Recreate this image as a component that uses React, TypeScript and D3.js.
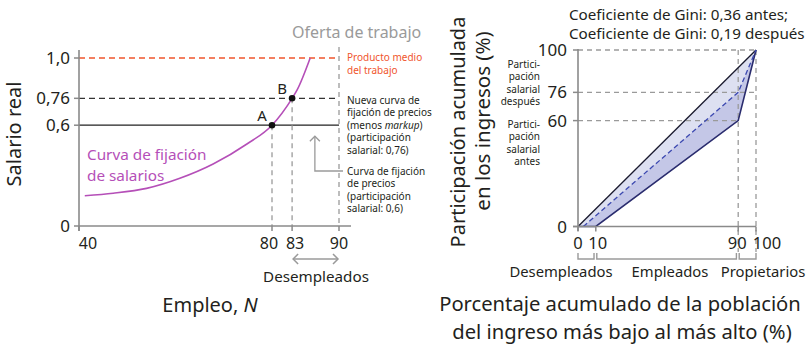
import React from "react";
import * as d3 from "d3";

// ---------- Data ----------
const leftYTicks = [0, 0.6, 0.76, 1.0];
const leftYLabels = ["0", "0,6", "0,76", "1,0"];
const leftXTicks = [40, 80, 83, 90];
const leftXLabels = ["40", "80", "83", "90"];
// wage-setting curve (N, real wage)
const wageCurveN = [41.2, 47.1, 54.0, 60.9, 67.8, 74.8, 80, 83, 83.75, 85.7];
const wageCurveW = [0.18, 0.195, 0.224, 0.284, 0.369, 0.488, 0.6, 0.76, 0.81, 1.0];
const productMedio = 1.0;
const priceNew = 0.76;
const priceOld = 0.6;
const laborSupplyN = 90;
const eqPoints = [
  { label: "A", N: 80, w: 0.6 },
  { label: "B", N: 83, w: 0.76 },
];

const rightYTicks = [0, 60, 76, 100];
const rightXTicks = [0, 10, 90, 100];
const equalityLine: [number, number][] = [[0, 0], [100, 100]];
const lorenzBefore: [number, number][] = [[0, 0], [10, 0], [90, 60], [100, 100]];
const lorenzAfter: [number, number][] = [[3, 0], [90, 76], [100, 100]];
const groups = [
  { label: "Desempleados", from: 0, to: 9 },
  { label: "Empleados", from: 10, to: 89 },
  { label: "Propietarios", from: 90, to: 100 },
];

// ---------- Styles ----------
const FONT = "'Noto Sans', 'Open Sans', sans-serif";
const TXT = "#231f20";
const AXIS = "#8a8a8a";
const DASH = "#9a9a9a";
const PURPLE = "#b54fb8";
const RED = "#f0552d";
const NAVY = "#2a2c6e";
const BLUE = "#3b48b0";

export default function App() {
  // left chart scales
  const xL = d3.scaleLinear().domain([40, 80, 90]).range([79, 272, 339]);
  const yL = d3.scaleLinear().domain([0, 1]).range([226, 58]);
  // right chart scales
  const xR = d3.scaleLinear().domain([0, 100]).range([578, 756]);
  const yR = d3.scaleLinear().domain([0, 100]).range([226.5, 50]);

  const curvePath =
    d3
      .line<number>()
      .x((_, i) => xL(wageCurveN[i]))
      .y((_, i) => yL(wageCurveW[i]))
      .curve(d3.curveMonotoneX)(wageCurveN) || "";

  const lineR = d3
    .line<[number, number]>()
    .x((d) => xR(d[0]))
    .y((d) => yR(d[1]));

  const lightPoly = [[0, 0] as [number, number], ...equalityLine.slice(1), ...[...lorenzAfter].reverse()];
  const darkPoly = [...lorenzAfter, ...[...lorenzBefore].reverse().slice(1, 3)];

  const xLend = xL(laborSupplyN);
  const noteX = xLend + 8;
  const noteLines1 = ["Nueva curva de", "fijación de precios"];
  const noteLines2 = ["(participación", "salarial: 0,76)"];
  const noteLines3 = ["Curva de fijación", "de precios", "(participación", "salarial: 0,6)"];

  const arrowX = xL(86.4);
  const arrowY = 171;

  // label offsets for crowded tick labels
  const leftXLabelShift: Record<number, number> = { 40: 9, 80: -3, 83: 3, 90: 0 };
  const rightXLabelShift: Record<number, number> = { 0: 0, 10: 2, 90: -1, 100: 11 };

  const chevron = (x: number, y: number, dir: "up" | "left" | "right", s = 5) => {
    if (dir === "up") return `M${x - s},${y + s} L${x},${y} L${x + s},${y + s}`;
    if (dir === "left") return `M${x + s},${y - s} L${x},${y} L${x + s},${y + s}`;
    return `M${x - s},${y - s} L${x},${y} L${x - s},${y + s}`;
  };

  return (
    <svg
      width={809}
      height={348}
      style={{ position: "absolute", left: 0, top: 0, background: "#fff" }}
      fontFamily={FONT}
    >
      {/* ================= LEFT CHART ================= */}
      <text x={292} y={38} fontSize={16} fill="#9a9a9a">Oferta de trabajo</text>

      {/* horizontal reference lines */}
      <line x1={xL(40)} x2={xLend} y1={yL(productMedio)} y2={yL(productMedio)} stroke={RED} strokeWidth={1.5} strokeDasharray="6,4" />
      <line x1={xL(40)} x2={xLend} y1={yL(priceNew)} y2={yL(priceNew)} stroke="#333" strokeWidth={1.3} strokeDasharray="6,4" />
      <line x1={xL(40)} x2={xLend} y1={yL(priceOld)} y2={yL(priceOld)} stroke="#222" strokeWidth={1.3} />

      {/* vertical dashed lines */}
      {eqPoints.map((p) => (
        <line key={p.label} x1={xL(p.N)} x2={xL(p.N)} y1={yL(p.w)} y2={yL(0)} stroke={DASH} strokeWidth={1.3} strokeDasharray="5,4" />
      ))}
      <line x1={xLend} x2={xLend} y1={47} y2={yL(0)} stroke={DASH} strokeWidth={1.3} strokeDasharray="5,4" />

      {/* axes */}
      <line x1={xL(40)} x2={xL(40)} y1={50} y2={231} stroke={AXIS} strokeWidth={1.6} />
      <line x1={xL(40)} x2={351} y1={yL(0)} y2={yL(0)} stroke={AXIS} strokeWidth={1.6} />
      {leftYTicks.map((t, i) => (
        <g key={t}>
          <line x1={xL(40) - 5} x2={xL(40)} y1={yL(t)} y2={yL(t)} stroke={AXIS} strokeWidth={1.5} />
          <text x={70} y={yL(t) + 6} fontSize={17} textAnchor="end" fill={TXT}>{leftYLabels[i]}</text>
        </g>
      ))}
      {leftXTicks.map((t, i) => (
        <g key={t}>
          <line x1={xL(t)} x2={xL(t)} y1={yL(0)} y2={yL(0) + 5} stroke={AXIS} strokeWidth={1.5} />
          <text x={xL(t) + leftXLabelShift[t]} y={249} fontSize={16} textAnchor="middle" fill={TXT}>{leftXLabels[i]}</text>
        </g>
      ))}

      {/* wage setting curve */}
      <path d={curvePath} fill="none" stroke={PURPLE} strokeWidth={1.6} />
      <text x={87} y={160} fontSize={15.3} fill={PURPLE}>Curva de fijación</text>
      <text x={87} y={181} fontSize={15.3} fill={PURPLE}>de salarios</text>

      {/* points */}
      {eqPoints.map((p) => (
        <g key={p.label}>
          <circle cx={xL(p.N)} cy={yL(p.w)} r={3.3} fill="#111" />
          <text x={xL(p.N) - 10} y={yL(p.w) - 4} fontSize={15} textAnchor="middle" fill={TXT}>{p.label}</text>
        </g>
      ))}

      {/* right annotations */}
      <text fontSize={10} fill={RED}>
        <tspan x={noteX} y={61}>Producto medio</tspan>
        <tspan x={noteX} y={74}>del trabajo</tspan>
      </text>
      <text fontSize={10} fill={TXT}>
        {noteLines1.map((l, i) => (
          <tspan key={i} x={noteX} y={104 + i * 12.4}>{l}</tspan>
        ))}
        <tspan x={noteX} y={104 + 2 * 12.4}>(menos </tspan>
        <tspan fontStyle="italic">markup</tspan>
        <tspan>)</tspan>
        {noteLines2.map((l, i) => (
          <tspan key={"b" + i} x={noteX} y={104 + (3 + i) * 12.4}>{l}</tspan>
        ))}
      </text>
      <text fontSize={10} fill={TXT}>
        {noteLines3.map((l, i) => (
          <tspan key={i} x={noteX} y={175 + i * 12.4}>{l}</tspan>
        ))}
      </text>
      {/* arrow */}
      <path d={`M${noteX - 4},${arrowY} L${arrowX},${arrowY} L${arrowX},${yL(priceOld) + 11}`} fill="none" stroke={DASH} strokeWidth={1.3} />
      <path d={chevron(arrowX, yL(priceOld) + 11, "up")} fill="none" stroke={DASH} strokeWidth={1.3} />

      {/* unemployed double arrow */}
      <line x1={xL(83) + 1} x2={xL(90) - 1} y1={259} y2={259} stroke={DASH} strokeWidth={1.5} />
      <path d={chevron(xL(83) + 1, 259, "left")} fill="none" stroke={DASH} strokeWidth={1.5} />
      <path d={chevron(xL(90) - 1, 259, "right")} fill="none" stroke={DASH} strokeWidth={1.5} />
      <text x={316} y={282} fontSize={15.2} textAnchor="middle" fill={TXT}>Desempleados</text>

      {/* axis titles */}
      <text x={210} y={312} fontSize={20} textAnchor="middle" fill={TXT}>
        Empleo, <tspan fontStyle="italic">N</tspan>
      </text>
      <text transform="translate(21,134) rotate(-90)" fontSize={20} textAnchor="middle" fill={TXT}>Salario real</text>

      {/* ================= RIGHT CHART ================= */}
      <text x={569} y={20} fontSize={15.2} fill={TXT}>Coeficiente de Gini: 0,36 antes;</text>
      <text x={569} y={39} fontSize={15.2} fill={TXT}>Coeficiente de Gini: 0,19 después</text>

      {/* fills */}
      <path d={lineR(lightPoly) + "Z"} fill="#dde0f1" />
      <path d={lineR(darkPoly) + "Z"} fill="#c4c7e7" />

      {/* dashed guides */}
      {[100, 76, 60].map((v) => (
        <line key={v} x1={xR(0)} x2={v === 60 ? xR(90) : xR(100)} y1={yR(v)} y2={yR(v)} stroke={DASH} strokeWidth={1.3} strokeDasharray="5,4" />
      ))}
      {[90, 100].map((v) => (
        <line key={v} x1={xR(v)} x2={xR(v)} y1={yR(100)} y2={252} stroke={DASH} strokeWidth={1.3} strokeDasharray="5,4" />
      ))}

      {/* lines */}
      <path d={lineR(equalityLine) || ""} fill="none" stroke="#1a1a2e" strokeWidth={1.3} />
      <path d={lineR(lorenzBefore) || ""} fill="none" stroke={NAVY} strokeWidth={1.6} />
      <path d={lineR(lorenzAfter) || ""} fill="none" stroke={BLUE} strokeWidth={1.3} strokeDasharray="5,3" />

      {/* axes */}
      <line x1={xR(0)} x2={xR(0)} y1={49} y2={231} stroke={AXIS} strokeWidth={1.6} />
      <line x1={xR(0) - 5} x2={xR(100)} y1={yR(0)} y2={yR(0)} stroke={AXIS} strokeWidth={1.6} />
      {rightYTicks.map((t) => (
        <g key={t}>
          <line x1={xR(0) - 5} x2={xR(0)} y1={yR(t)} y2={yR(t)} stroke={AXIS} strokeWidth={1.5} />
          <text x={567} y={yR(t) + 6} fontSize={17} textAnchor="end" fill={TXT}>{t}</text>
        </g>
      ))}
      {rightXTicks.map((t) => (
        <g key={t}>
          <line x1={xR(t)} x2={xR(t)} y1={yR(0)} y2={yR(0) + 5} stroke={AXIS} strokeWidth={1.5} />
          <text x={xR(t) + rightXLabelShift[t]} y={249} fontSize={16.5} textAnchor="middle" fill={TXT}>{t}</text>
        </g>
      ))}

      {/* side labels */}
      <text fontSize={10} fill={TXT} textAnchor="end">
        {["Partici-", "pación", "salarial", "después"].map((l, i) => (
          <tspan key={i} x={540} y={68 + i * 12.4}>{l}</tspan>
        ))}
      </text>
      <text fontSize={10} fill={TXT} textAnchor="end">
        {["Partici-", "pación", "salarial", "antes"].map((l, i) => (
          <tspan key={i} x={540} y={128 + i * 12.4}>{l}</tspan>
        ))}
      </text>

      {/* brackets */}
      {groups.map((g, i) => {
        const x1 = xR(g.from) + (i === 0 ? 0 : 1);
        const x2 = xR(g.to);
        return (
          <path key={g.label} d={`M${x1},253 L${x1},259 L${x2},259 L${x2},253`} fill="none" stroke={DASH} strokeWidth={1.4} />
        );
      })}
      <text x={561} y={277} fontSize={14.8} textAnchor="middle" fill={TXT}>Desempleados</text>
      <text x={670} y={277} fontSize={14.8} textAnchor="middle" fill={TXT}>Empleados</text>
      <text x={763} y={277} fontSize={14.8} textAnchor="middle" fill={TXT}>Propietarios</text>

      {/* axis titles */}
      <text x={620} y={311} fontSize={20.2} textAnchor="middle" fill={TXT}>Porcentaje acumulado de la población</text>
      <text x={622} y={339} fontSize={20.2} textAnchor="middle" fill={TXT}>del ingreso más bajo al más alto (%)</text>
      <text transform="translate(465,132) rotate(-90)" fontSize={20} textAnchor="middle" fill={TXT}>Participación acumulada</text>
      <text transform="translate(490,121) rotate(-90)" fontSize={20.5} textAnchor="middle" fill={TXT}>en los ingresos (%)</text>
    </svg>
  );
}
